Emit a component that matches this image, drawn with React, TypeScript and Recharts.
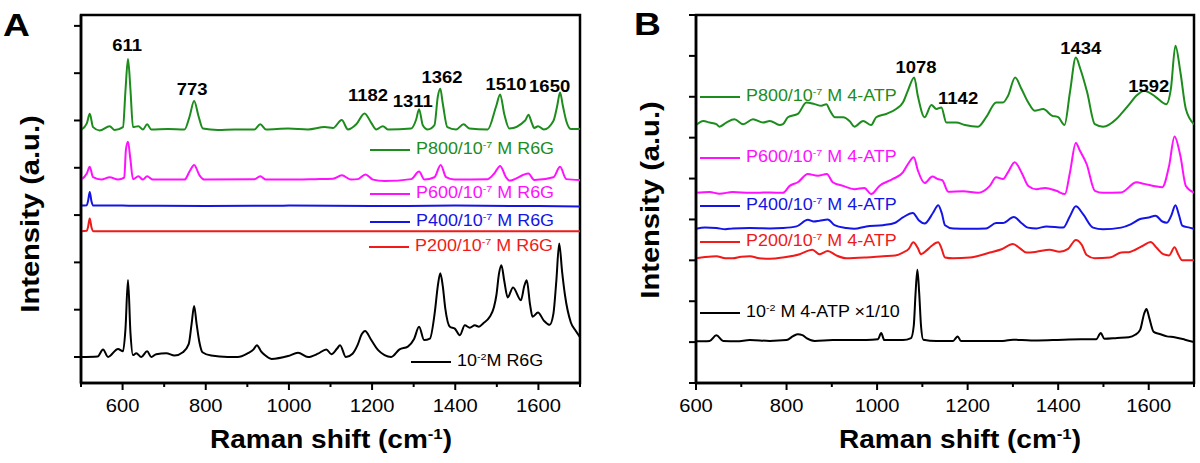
import React from "react";
import { LineChart, Line, XAxis, YAxis, ReferenceArea, ReferenceDot } from "recharts";

type Pt = [number, number];

// ---- panel A : R6G (Raman shift, offset intensity) ----
const r6gStock: Pt[] = [
  [500, 0], [540, 0.01], [553, 0.16], [565, 0], [589, 0.17], [601, 0.12], [607, 0.6], [613, 1.63],
  [619, 0.5], [625, 0.04], [633, 0.08], [645, 0], [659, 0.12], [669, 0], [681, 0.06], [705, 0.08],
  [725, 0.03], [745, 0.1], [759, 0.27], [766, 0.7], [772, 1.08], [778, 0.7], [785, 0.3], [792, 0.1],
  [813, 0.03], [853, 0], [877, 0], [901, 0.08], [915, 0.16], [923, 0.25], [933, 0.12], [942, 0.04],
  [958, -0.04], [998, 0.02], [1022, 0.09], [1046, 0], [1070, 0.07], [1090, 0.16], [1102, 0.06],
  [1116, 0.18], [1123, 0.25], [1137, 0], [1153, 0.07], [1165, 0.25], [1175, 0.48], [1183, 0.55],
  [1198, 0.36], [1214, 0.15], [1230, 0.04], [1246, 0], [1266, 0.16], [1286, 0.22], [1301, 0.38],
  [1313, 0.64], [1325, 0.36], [1339, 0.39], [1351, 0.96], [1358, 1.5], [1364, 1.77], [1370, 1.5],
  [1376, 1.03], [1387, 0.64], [1399, 0.6], [1411, 0.46], [1423, 0.67], [1435, 0.62], [1447, 0.67],
  [1457, 0.64], [1467, 0.71], [1483, 0.85], [1493, 1.05], [1499, 1.31], [1505, 1.75], [1511, 1.94],
  [1518, 1.6], [1526, 1.26], [1539, 1.47], [1558, 1.2], [1566, 1.5], [1572, 1.62], [1580, 1.1],
  [1586, 0.85], [1599, 0.94], [1613, 0.77], [1627, 0.68], [1636, 0.91], [1643, 1.6], [1650, 2.4],
  [1657, 1.8], [1664, 1.3], [1678, 0.73], [1690, 0.55], [1700, 0.42],
];
const r6gP200: Pt[] = [
  [500, 2.66], [514, 2.67], [517, 2.75], [521, 2.93], [525, 2.75], [530, 2.66], [700, 2.66],
  [900, 2.66], [1100, 2.66], [1300, 2.66], [1500, 2.66], [1700, 2.66],
];
const r6gP400: Pt[] = [
  [500, 3.2], [514, 3.21], [517, 3.3], [521, 3.49], [525, 3.3], [530, 3.2], [600, 3.2], [800, 3.19],
  [1000, 3.2], [1200, 3.19], [1400, 3.2], [1600, 3.19], [1700, 3.18],
];
const r6gP600: Pt[] = [
  [500, 3.75], [514, 3.88], [521, 4.02], [529, 3.8], [549, 3.75], [569, 3.8], [589, 3.75], [604, 3.79],
  [608, 4.38], [613, 4.55], [619, 4.16], [625, 3.76], [638, 3.82], [649, 3.75], [659, 3.82], [673, 3.75],
  [749, 3.75], [761, 3.92], [772, 4.06], [785, 3.84], [797, 3.75], [917, 3.76], [931, 3.82], [945, 3.75],
  [998, 3.75], [1062, 3.76], [1106, 3.77], [1127, 3.84], [1150, 3.75], [1166, 3.76], [1184, 3.86],
  [1202, 3.75], [1230, 3.72], [1294, 3.76], [1313, 3.92], [1326, 3.75], [1350, 3.8], [1365, 4.06],
  [1378, 3.8], [1398, 3.75], [1478, 3.76], [1494, 3.88], [1508, 4.04], [1522, 3.8], [1530, 3.73],
  [1576, 3.88], [1590, 3.74], [1636, 3.8], [1652, 4.02], [1667, 3.76], [1700, 3.74],
];
const r6gP800: Pt[] = [
  [500, 4.8], [514, 4.94], [521, 5.14], [529, 4.86], [545, 4.79], [569, 4.88], [581, 4.8], [601, 4.86],
  [607, 5.64], [613, 6.3], [619, 5.64], [625, 4.86], [638, 4.88], [649, 4.81], [659, 4.92], [669, 4.81],
  [709, 4.82], [749, 4.81], [761, 5.08], [772, 5.41], [783, 5.08], [793, 4.83], [829, 4.8], [869, 4.81],
  [917, 4.81], [931, 4.92], [945, 4.81], [998, 4.83], [1046, 4.81], [1086, 4.86], [1106, 4.84],
  [1127, 5.01], [1142, 4.81], [1162, 4.92], [1182, 5.15], [1198, 4.95], [1210, 4.81], [1226, 4.88],
  [1238, 4.81], [1294, 4.83], [1306, 5.02], [1313, 5.24], [1322, 4.9], [1334, 4.81], [1350, 4.9],
  [1358, 5.5], [1364, 5.67], [1370, 5.36], [1381, 4.86], [1402, 4.81], [1420, 4.92], [1434, 4.83],
  [1478, 4.81], [1498, 5.29], [1508, 5.55], [1518, 5.13], [1530, 4.83], [1568, 5.0], [1576, 5.12],
  [1584, 4.95], [1590, 4.84], [1599, 4.88], [1613, 4.81], [1636, 4.99], [1645, 5.3], [1652, 5.59],
  [1659, 5.3], [1667, 4.99], [1678, 4.82], [1700, 4.82],
];

// ---- panel B : 4-ATP ----
const atpStock: Pt[] = [
  [600, 1.02], [630, 1.03], [645, 1.17], [660, 1.03], [690, 1.02], [719, 1.05], [763, 1.03], [800, 1.05],
  [815, 1.15], [825, 1.19], [835, 1.17], [844, 1.1], [862, 1.03], [902, 1.05], [976, 1.05], [1002, 1.07],
  [1009, 1.22], [1016, 1.05], [1040, 1.05], [1057, 1.05], [1075, 1.1], [1081, 1.4], [1085, 2.2],
  [1089, 2.77], [1093, 2.2], [1097, 1.4], [1102, 1.06], [1131, 1.03], [1168, 1.03], [1174, 1.1],
  [1178, 1.14], [1185, 1.03], [1230, 1.03], [1278, 1.03], [1300, 1.06], [1340, 1.04], [1388, 1.05],
  [1450, 1.07], [1484, 1.07], [1494, 1.22], [1502, 1.08], [1530, 1.1], [1556, 1.12], [1570, 1.18],
  [1581, 1.3], [1590, 1.7], [1595, 1.81], [1601, 1.6], [1611, 1.25], [1624, 1.2], [1640, 1.14],
  [1657, 1.12], [1680, 1.06], [1700, 1.0],
];
const atpP200: Pt[] = [
  [600, 3.05], [620, 3.08], [645, 3.1], [665, 3.05], [681, 3.05], [700, 3.09], [719, 3.1], [740, 3.05],
  [763, 3.04], [792, 3.07], [829, 3.15], [857, 3.26], [873, 3.15], [891, 3.23], [910, 3.12], [932, 3.05],
  [976, 3.07], [1013, 3.1], [1040, 3.12], [1057, 3.19], [1070, 3.28], [1080, 3.44], [1090, 3.3],
  [1097, 3.15], [1110, 3.25], [1120, 3.35], [1135, 3.44], [1142, 3.3], [1150, 3.07], [1168, 3.05],
  [1205, 3.07], [1249, 3.19], [1275, 3.27], [1300, 3.4], [1315, 3.3], [1330, 3.19], [1352, 3.21],
  [1381, 3.26], [1403, 3.21], [1422, 3.28], [1439, 3.5], [1452, 3.38], [1463, 3.13], [1481, 3.05],
  [1514, 3.07], [1539, 3.19], [1556, 3.2], [1586, 3.35], [1604, 3.45], [1618, 3.3], [1632, 3.15],
  [1645, 3.12], [1657, 3.32], [1665, 3.15], [1674, 3.0], [1700, 3.0],
];
const atpP400: Pt[] = [
  [600, 3.77], [620, 3.8], [645, 3.79], [665, 3.76], [681, 3.78], [719, 3.79], [763, 3.78], [792, 3.79],
  [822, 3.83], [847, 3.99], [860, 3.95], [873, 3.97], [891, 4.0], [906, 3.86], [932, 3.79], [950, 3.77],
  [976, 3.83], [1013, 3.86], [1040, 3.92], [1057, 4.05], [1079, 4.16], [1092, 3.98], [1105, 3.9],
  [1124, 4.17], [1135, 4.35], [1143, 4.15], [1150, 3.86], [1168, 3.78], [1205, 3.77], [1241, 3.78],
  [1263, 3.91], [1278, 3.91], [1302, 4.06], [1320, 3.9], [1333, 3.8], [1352, 3.78], [1374, 3.83],
  [1411, 3.8], [1426, 4.08], [1439, 4.32], [1455, 4.13], [1477, 3.8], [1499, 3.76], [1539, 3.8],
  [1560, 3.88], [1581, 4.01], [1600, 4.05], [1615, 4.09], [1630, 3.95], [1640, 3.92], [1650, 4.1],
  [1659, 4.35], [1667, 4.1], [1674, 3.85], [1690, 3.8], [1700, 3.77],
];
const atpP600: Pt[] = [
  [600, 4.65], [630, 4.67], [652, 4.63], [681, 4.67], [719, 4.65], [763, 4.66], [792, 4.65], [807, 4.82],
  [825, 4.91], [847, 5.11], [869, 5.07], [889, 5.11], [902, 4.91], [925, 4.82], [950, 4.74], [972, 4.77],
  [987, 4.62], [1005, 4.82], [1035, 4.99], [1057, 5.15], [1068, 5.35], [1081, 5.52], [1090, 5.2],
  [1105, 4.89], [1122, 5.05], [1134, 4.99], [1144, 4.96], [1157, 4.68], [1190, 4.69], [1223, 4.65],
  [1249, 4.82], [1263, 5.03], [1278, 4.99], [1289, 5.15], [1304, 5.4], [1319, 5.15], [1334, 4.82],
  [1352, 4.74], [1371, 4.77], [1396, 4.7], [1415, 4.62], [1426, 5.15], [1439, 5.87], [1448, 5.68],
  [1463, 5.35], [1481, 4.7], [1499, 4.65], [1539, 4.66], [1573, 4.91], [1590, 4.87], [1630, 4.79],
  [1645, 5.31], [1657, 6.03], [1670, 5.55], [1682, 4.82], [1700, 4.66],
];
const atpP800: Pt[] = [
  [600, 6.31], [616, 6.41], [630, 6.37], [645, 6.33], [652, 6.27], [667, 6.37], [685, 6.45], [704, 6.33],
  [726, 6.45], [748, 6.37], [763, 6.41], [785, 6.31], [792, 6.33], [803, 6.5], [825, 6.58], [844, 6.86],
  [862, 6.82], [877, 6.78], [888, 6.82], [896, 6.66], [907, 6.5], [925, 6.5], [939, 6.41], [950, 6.27],
  [969, 6.41], [987, 6.31], [998, 6.5], [1020, 6.58], [1042, 6.7], [1057, 6.86], [1068, 7.15],
  [1082, 7.47], [1090, 7.02], [1105, 6.5], [1120, 6.8], [1131, 6.7], [1142, 6.74], [1153, 6.37],
  [1175, 6.37], [1194, 6.31], [1223, 6.27], [1241, 6.5], [1263, 6.86], [1278, 6.86], [1289, 7.02],
  [1305, 7.47], [1319, 7.19], [1334, 6.86], [1348, 6.66], [1367, 6.7], [1386, 6.54], [1400, 6.5],
  [1414, 6.31], [1426, 7.11], [1439, 7.96], [1449, 7.68], [1464, 7.11], [1481, 6.33], [1499, 6.27],
  [1528, 6.45], [1539, 6.58], [1556, 6.8], [1573, 7.03], [1590, 7.15], [1615, 7.0], [1639, 6.82],
  [1649, 7.2], [1659, 8.25], [1670, 7.6], [1682, 6.7], [1700, 6.33],
];

// peak labels: [text, shift, intensity where the label sits]
const peaksA: [string, number, number][] = [
  ["611", 611, 6.58], ["773", 767, 5.65], ["1182", 1190, 5.53], ["1311", 1298, 5.41],
  ["1362", 1368, 5.91], ["1510", 1522, 5.77], ["1650", 1627, 5.73],
];
const peaksB: [string, number, number][] = [
  ["1078", 1086, 7.72], ["1142", 1179, 6.97], ["1434", 1450, 8.19], ["1592", 1600, 7.25],
];

const ticksA = [500, 600, 700, 800, 900, 1000, 1100, 1200, 1300, 1400, 1500, 1600, 1700];
const ticksB = [600, 700, 800, 900, 1000, 1100, 1200, 1300, 1400, 1500, 1600, 1700];
const yTicksA = [0, 1, 2, 3, 4, 5, 6, 7];
const yTicksB = [0, 1, 2, 3, 4, 5, 6, 7, 8, 9];

const GREEN = "#1c8c1c";
const MAGENTA = "#ff10ff";
const BLUE = "#1414e6";
const RED = "#f01a1a";

const FONT = '"Liberation Sans", Arial, Helvetica, sans-serif';
const SX = 1.12;

const rows = (pts: Pt[]) => pts.map(([x, y]) => ({ x, y }));

// tick marks every 100, labels every 200; y arrives as the axis line position
const XTick = ({ x, y, payload }: any) => {
  const major = payload.value % 200 === 0;
  return (
    <g>
      <line x1={x} x2={x} y1={y} y2={y + (major ? 7 : 4)} stroke="#000" strokeWidth={2} />
      {major && (
        <text
          transform={`translate(${x},${y + 29}) scale(${SX},1)`}
          textAnchor="middle"
          fontSize={18}
          fontFamily={FONT}
          fill="#000"
        >
          {payload.value}
        </text>
      )}
    </g>
  );
};

// unlabelled y ticks, pointing out of the frame
const YTick = ({ x, y }: any) => (
  <line x1={x - 7} x2={x} y1={y} y2={y} stroke="#000" strokeWidth={2} />
);

const PeakText = ({ viewBox, text }: any) => {
  const cx = viewBox.x + viewBox.width / 2;
  const cy = viewBox.y + viewBox.height / 2;
  return (
    <text
      transform={`translate(${cx},${cy}) scale(${SX},1)`}
      textAnchor="middle"
      dominantBaseline="central"
      fontSize={16.5}
      fontWeight="bold"
      fontFamily={FONT}
      fill="#000"
    >
      {text}
    </text>
  );
};

const Sup = ({ children }: { children: React.ReactNode }) => (
  <span style={{ fontSize: "0.6em", position: "relative", top: "-0.6em" }}>{children}</span>
);

const LegendEntry = ({ left, top, color, children }: any) => (
  <div
    style={{
      position: "absolute",
      left,
      top: top - 11,
      height: 22,
      display: "flex",
      alignItems: "center",
      whiteSpace: "nowrap",
      color,
    }}
  >
    <div style={{ width: 40, height: 2.6, background: color, marginRight: 6 }} />
    <span
      style={{
        fontSize: 16,
        lineHeight: "22px",
        display: "inline-block",
        transform: `scaleX(${SX})`,
        transformOrigin: "left center",
      }}
    >
      {children}
    </span>
  </div>
);

const Panel = ({ left, plotLeft, plotRight, xDomain, xTicks, yDomain, yTicks, series, peaks }: any) => (
  <LineChart
    width={600}
    height={463}
    margin={{ top: 15, left: plotLeft - 20, right: 600 - plotRight, bottom: 463 - 383 - 40 }}
    style={{ position: "absolute", left, top: 0 }}
  >
    <XAxis
      type="number"
      dataKey="x"
      domain={xDomain}
      ticks={xTicks}
      interval={0}
      allowDataOverflow
      height={40}
      tickSize={0}
      tickMargin={0}
      tickLine={false}
      tick={<XTick />}
      axisLine={{ stroke: "#000", strokeWidth: 2.5 }}
    />
    <YAxis
      type="number"
      dataKey="y"
      domain={yDomain}
      ticks={yTicks}
      interval={0}
      allowDataOverflow
      width={20}
      tickSize={0}
      tickMargin={0}
      tickLine={false}
      tick={<YTick />}
      axisLine={{ stroke: "#000", strokeWidth: 2.5 }}
    />
    <ReferenceArea
      x1={xDomain[0]}
      x2={xDomain[1]}
      y1={yDomain[0]}
      y2={yDomain[1]}
      fill="none"
      fillOpacity={0}
      stroke="#000"
      strokeWidth={2.5}
    />
    {series.map((s: any) => (
      <Line
        key={s.name}
        data={rows(s.pts)}
        dataKey="y"
        type="monotone"
        stroke={s.color}
        strokeWidth={2}
        dot={false}
        isAnimationActive={false}
      />
    ))}
    {peaks.map(([t, x, y]: [string, number, number]) => (
      <ReferenceDot key={t} x={x} y={y} r={1} fill="none" stroke="none" label={<PeakText text={t} />} />
    ))}
  </LineChart>
);

const seriesA = [
  { name: "stock", pts: r6gStock, color: "#000" },
  { name: "p200", pts: r6gP200, color: RED },
  { name: "p400", pts: r6gP400, color: BLUE },
  { name: "p600", pts: r6gP600, color: MAGENTA },
  { name: "p800", pts: r6gP800, color: GREEN },
];
const seriesB = [
  { name: "stock", pts: atpStock, color: "#000" },
  { name: "p200", pts: atpP200, color: RED },
  { name: "p400", pts: atpP400, color: BLUE },
  { name: "p600", pts: atpP600, color: MAGENTA },
  { name: "p800", pts: atpP800, color: GREEN },
];

const titleStyle: React.CSSProperties = {
  position: "absolute",
  fontSize: 25,
  fontWeight: "bold",
  lineHeight: "25px",
  whiteSpace: "nowrap",
  color: "#000",
};

export default function App() {
  return (
    <div
      style={{
        position: "absolute",
        left: 0,
        top: 0,
        width: 1200,
        height: 463,
        background: "#fff",
        fontFamily: FONT,
        overflow: "hidden",
      }}
    >
      <Panel
        left={0}
        plotLeft={81}
        plotRight={580}
        xDomain={[500, 1700]}
        xTicks={ticksA}
        yDomain={[-0.55, 7.23]}
        yTicks={yTicksA}
        series={seriesA}
        peaks={peaksA}
      />
      <Panel
        left={600}
        plotLeft={96}
        plotRight={594}
        xDomain={[600, 1700]}
        xTicks={ticksB}
        yDomain={[0, 9]}
        yTicks={yTicksB}
        series={seriesB}
        peaks={peaksB}
      />

      {/* panel letters */}
      <div style={{ ...titleStyle, fontSize: 31, lineHeight: "31px", left: 3, top: 10, transform: "scaleX(1.2)", transformOrigin: "left center" }}>A</div>
      <div style={{ ...titleStyle, fontSize: 31, lineHeight: "31px", left: 634, top: 9, transform: "scaleX(1.2)", transformOrigin: "left center" }}>B</div>

      {/* axis titles */}
      <div style={{ ...titleStyle, left: 331, top: 427, transform: `translateX(-50%) scaleX(${SX})` }}>
        Raman shift (cm<Sup>-1</Sup>)
      </div>
      <div style={{ ...titleStyle, left: 960, top: 427, transform: `translateX(-50%) scaleX(${SX})` }}>
        Raman shift (cm<Sup>-1</Sup>)
      </div>
      <div style={{ ...titleStyle, fontSize: 26, left: 30, top: 214, transform: `translate(-50%,-50%) rotate(-90deg) scaleX(${SX})` }}>
        Intensity (a.u.)
      </div>
      <div style={{ ...titleStyle, fontSize: 26, left: 650, top: 200, transform: `translate(-50%,-50%) rotate(-90deg) scaleX(${SX})` }}>
        Intensity (a.u.)
      </div>

      {/* legends, panel A */}
      <LegendEntry left={370} top={150} color={GREEN}>P800/10<Sup>-7</Sup> M R6G</LegendEntry>
      <LegendEntry left={370} top={194} color={MAGENTA}>P600/10<Sup>-7</Sup> M R6G</LegendEntry>
      <LegendEntry left={370} top={222} color={BLUE}>P400/10<Sup>-7</Sup> M R6G</LegendEntry>
      <LegendEntry left={369} top={247} color={RED}>P200/10<Sup>-7</Sup> M R6G</LegendEntry>
      <LegendEntry left={411} top={362} color="#000">10<Sup>-2</Sup>M R6G</LegendEntry>

      {/* legends, panel B */}
      <LegendEntry left={700} top={97} color={GREEN}>P800/10<Sup>-7</Sup> M 4-ATP</LegendEntry>
      <LegendEntry left={700} top={158} color={MAGENTA}>P600/10<Sup>-7</Sup> M 4-ATP</LegendEntry>
      <LegendEntry left={700} top={206} color={BLUE}>P400/10<Sup>-7</Sup> M 4-ATP</LegendEntry>
      <LegendEntry left={700} top={242} color={RED}>P200/10<Sup>-7</Sup> M 4-ATP</LegendEntry>
      <LegendEntry left={700} top={313} color="#000">10<Sup>-2</Sup> M 4-ATP ×1/10</LegendEntry>
    </div>
  );
}
